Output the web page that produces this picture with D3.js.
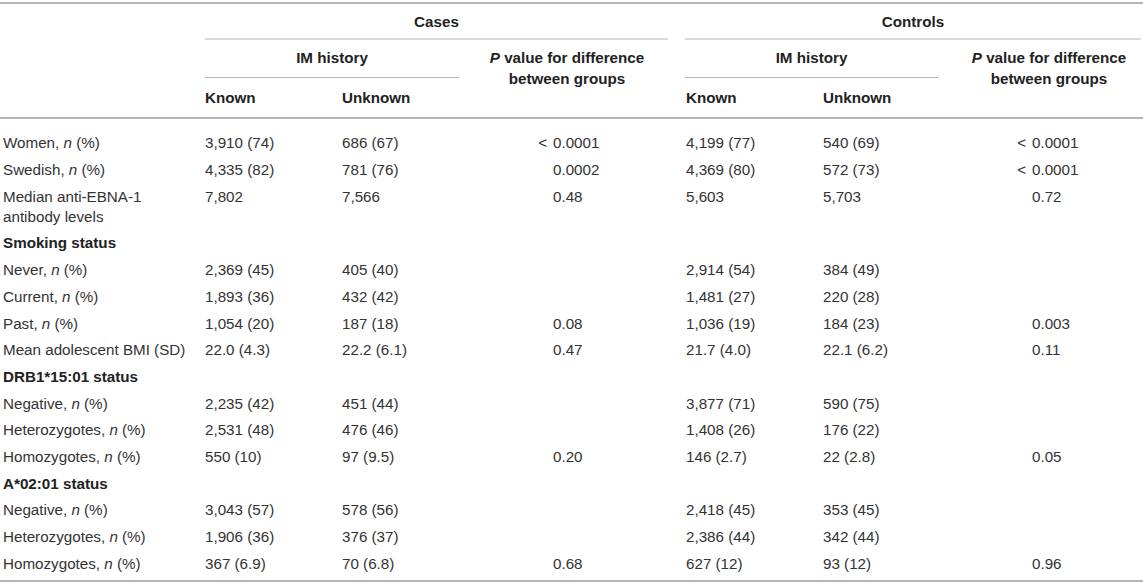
<!DOCTYPE html>
<html>
<head>
<meta charset="utf-8">
<script src="https://cdn.jsdelivr.net/npm/d3@7/dist/d3.min.js"></script>
<style>
  html, body { margin: 0; padding: 0; background: #fff; }
  svg { display: block; font-family: "Liberation Sans", Arial, Helvetica, sans-serif; }
</style>
</head>
<body>
<svg id="chart" width="1143" height="584"></svg>
<script>
// ---- data ----
const rowLabels = [
  "Women, |n| (%)",
  "Swedish, |n| (%)",
  "Median anti-EBNA-1\nantibody levels",
  "#Smoking status",
  "Never, |n| (%)",
  "Current, |n| (%)",
  "Past, |n| (%)",
  "Mean adolescent BMI (SD)",
  "#DRB1*15:01 status",
  "Negative, |n| (%)",
  "Heterozygotes, |n| (%)",
  "Homozygotes, |n| (%)",
  "#A*02:01 status",
  "Negative, |n| (%)",
  "Heterozygotes, |n| (%)",
  "Homozygotes, |n| (%)"
];
const casesKnown = ["3,910 (74)", "4,335 (82)", "7,802", "", "2,369 (45)", "1,893 (36)", "1,054 (20)", "22.0 (4.3)", "", "2,235 (42)", "2,531 (48)", "550 (10)", "", "3,043 (57)", "1,906 (36)", "367 (6.9)"];
const casesUnknown = ["686 (67)", "781 (76)", "7,566", "", "405 (40)", "432 (42)", "187 (18)", "22.2 (6.1)", "", "451 (44)", "476 (46)", "97 (9.5)", "", "578 (56)", "376 (37)", "70 (6.8)"];
const casesP = ["< 0.0001", "0.0002", "0.48", "", "", "", "0.08", "0.47", "", "", "", "0.20", "", "", "", "0.68"];
const controlsKnown = ["4,199 (77)", "4,369 (80)", "5,603", "", "2,914 (54)", "1,481 (27)", "1,036 (19)", "21.7 (4.0)", "", "3,877 (71)", "1,408 (26)", "146 (2.7)", "", "2,418 (45)", "2,386 (44)", "627 (12)"];
const controlsUnknown = ["540 (69)", "572 (73)", "5,703", "", "384 (49)", "220 (28)", "184 (23)", "22.1 (6.2)", "", "590 (75)", "176 (22)", "22 (2.8)", "", "353 (45)", "342 (44)", "93 (12)"];
const controlsP = ["< 0.0001", "< 0.0001", "0.72", "", "", "", "0.003", "0.11", "", "", "", "0.05", "", "", "", "0.96"];
const groupLabels = ["Cases", "Controls"];
const subHeader = "IM history";
const colHeaders = ["Known", "Unknown"];
const pHeader = ["|P| value for difference", "between groups"];

// ---- layout ----
const W = 1143, H = 584;
const svg = d3.select("#chart");
const fontSize = 15.2;
const textColor = "#333";
const headColor = "#222";
const ruleColor = "#b4b4b4";

const colX = d3.scaleOrdinal()
  .domain(["label", "cK", "cU", "cP", "tK", "tU", "tP"])
  .range([3, 205, 342, 553, 686, 823, 1032]);

const lineCounts = rowLabels.map(l => l.split("\n").length);
const starts = [];
let acc = 0;
lineCounts.forEach(c => { starts.push(acc); acc += 1 + (c - 1) * 0.75; });
const y = d3.scaleLinear().domain([0, 1]).range([143, 169.7]);
const lineGap = 20;

function richText(sel, str) {
  const parts = str.split("|");
  parts.forEach((p, i) => {
    if (!p) return;
    const t = sel.append("tspan").text(p);
    if (i % 2 === 1) t.attr("font-style", "italic");
  });
}

function hline(x1, x2, yy, w) {
  svg.append("line").attr("x1", x1).attr("x2", x2).attr("y1", yy).attr("y2", yy)
    .attr("stroke", ruleColor).attr("stroke-width", w);
}
hline(0, W, 3, 2);
hline(0, W, 118, 2);
hline(0, W, 581, 2);
hline(205, 668, 39, 1);
hline(685, 1141, 39, 1);
hline(205, 459, 77.5, 1);
hline(685, 938, 77.5, 1);

const hdr = svg.append("g").attr("font-size", fontSize).attr("font-weight", "bold").attr("fill", headColor);
[[groupLabels[0], (205 + 668) / 2], [groupLabels[1], (685 + 1141) / 2]].forEach(([t, cx]) => {
  hdr.append("text").attr("x", cx).attr("y", 27).attr("text-anchor", "middle").text(t);
});
[(205 + 459) / 2, (685 + 938) / 2].forEach(cx => {
  hdr.append("text").attr("x", cx).attr("y", 63).attr("text-anchor", "middle").text(subHeader);
});
[567, 1049].forEach(cx => {
  pHeader.forEach((line, i) => {
    const t = hdr.append("text").attr("x", cx).attr("y", 63 + i * 21).attr("text-anchor", "middle");
    richText(t, line);
  });
});
[["cK", "cU"], ["tK", "tU"]].forEach(pair => {
  pair.forEach((k, i) => {
    hdr.append("text").attr("x", colX(k)).attr("y", 103).text(colHeaders[i]);
  });
});

const body = svg.append("g").attr("font-size", fontSize).attr("fill", textColor);
rowLabels.forEach((lab, r) => {
  const yy = y(starts[r]) + 5.3;
  const isSection = lab.startsWith("#");
  const lines = (isSection ? lab.slice(1) : lab).split("\n");
  lines.forEach((ln, j) => {
    const t = body.append("text").attr("x", colX("label")).attr("y", yy + j * lineGap);
    if (isSection) t.attr("font-weight", "bold").attr("fill", headColor);
    richText(t, ln);
  });
  [["cK", casesKnown], ["cU", casesUnknown], ["tK", controlsKnown], ["tU", controlsUnknown]].forEach(([k, arr]) => {
    if (arr[r]) body.append("text").attr("x", colX(k)).attr("y", yy).text(arr[r]);
  });
  [["cP", casesP], ["tP", controlsP]].forEach(([k, arr]) => {
    const v = arr[r];
    if (!v) return;
    if (v.startsWith("< ")) {
      body.append("text").attr("x", colX(k) - 6).attr("y", yy).attr("text-anchor", "end").text("<");
      body.append("text").attr("x", colX(k)).attr("y", yy).text(v.slice(2));
    } else {
      body.append("text").attr("x", colX(k)).attr("y", yy).text(v);
    }
  });
});
</script>
</body>
</html>
